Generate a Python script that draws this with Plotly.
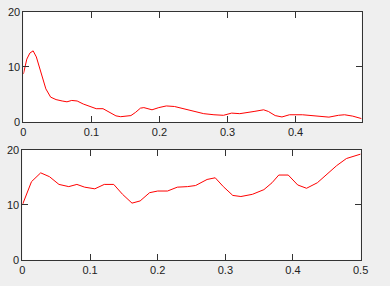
import plotly.graph_objects as go

# Top panel data
x_top = [0, 0.005, 0.0095, 0.0143, 0.019, 0.024, 0.0286, 0.033, 0.040, 0.048, 0.057, 0.064,
         0.071, 0.079, 0.088, 0.098, 0.107, 0.117, 0.126, 0.136, 0.143, 0.150, 0.158, 0.165,
         0.172, 0.177, 0.189, 0.199, 0.21, 0.222, 0.237, 0.251, 0.265, 0.28, 0.294, 0.306,
         0.318, 0.339, 0.353, 0.36, 0.37, 0.38, 0.391, 0.41, 0.43, 0.449, 0.463, 0.472,
         0.484, 0.497]
y_top = [8.7, 11.4, 12.5, 12.9, 11.8, 9.7, 7.7, 6.0, 4.5, 4.05, 3.8, 3.65, 3.9, 3.8, 3.25,
         2.8, 2.4, 2.4, 1.75, 1.1, 0.95, 1.0, 1.15, 1.75, 2.5, 2.6, 2.2, 2.6, 2.9, 2.8, 2.3,
         1.9, 1.5, 1.3, 1.2, 1.6, 1.5, 1.9, 2.2, 1.9, 1.15, 0.9, 1.3, 1.3, 1.05, 0.87, 1.2,
         1.3, 1.05, 0.6]

# Bottom panel data
x_bot = [0, 0.0134, 0.027, 0.040, 0.054, 0.0685, 0.0805, 0.092, 0.107, 0.121, 0.135, 0.148,
         0.162, 0.174, 0.188, 0.2, 0.2145, 0.229, 0.244, 0.256, 0.273, 0.285, 0.297, 0.311,
         0.323, 0.34, 0.357, 0.369, 0.379, 0.393, 0.407, 0.42, 0.436, 0.45, 0.4645, 0.479, 0.5]
y_bot = [10.0, 14.2, 15.8, 15.1, 13.7, 13.3, 13.7, 13.2, 12.9, 13.7, 13.7, 11.9, 10.3, 10.7,
         12.2, 12.5, 12.5, 13.2, 13.3, 13.5, 14.6, 14.9, 13.3, 11.7, 11.5, 11.9, 12.75, 14.0,
         15.4, 15.4, 13.6, 13.0, 14.0, 15.5, 17.1, 18.4, 19.2]

x_ticks = [0, 0.1, 0.2, 0.3, 0.4, 0.5]
x_tick_labels = ["0", "0.1", "0.2", "0.3", "0.4", "0.5"]
y_ticks = [0, 10, 20]
y_tick_labels = ["0", "10", "20"]

W, H = 390, 286
fig = go.Figure()
fig.add_trace(go.Scatter(x=x_top, y=y_top, mode="lines", line=dict(color="#FF0000", width=1),
                         xaxis="x", yaxis="y", showlegend=False, hoverinfo="skip"))
fig.add_trace(go.Scatter(x=x_bot, y=y_bot, mode="lines", line=dict(color="#FF0000", width=1),
                         xaxis="x2", yaxis="y2", showlegend=False, hoverinfo="skip"))

axcommon = dict(showgrid=False, zeroline=False, showline=True, linecolor="#333333", linewidth=1,
                mirror="ticks", ticks="inside", ticklen=6, tickwidth=1, tickcolor="#333333",
                tickfont=dict(family="Liberation Sans, Arial, sans-serif", size=11, color="#222222"))

fig.update_layout(
    width=W, height=H,
    margin=dict(l=0, r=0, t=0, b=0),
    paper_bgcolor="#EFEFEF",
    plot_bgcolor="#FFFFFF",
    xaxis=dict(domain=[21 / W, 369 / W], range=[0, 0.497], anchor="y",
               tickvals=x_ticks, ticktext=x_tick_labels, **axcommon),
    yaxis=dict(domain=[(H - 121) / H, (H - 6) / H], range=[0, 20], anchor="x",
               tickvals=y_ticks, ticktext=y_tick_labels, **axcommon),
    xaxis2=dict(domain=[20 / W, 368 / W], range=[0, 0.5], anchor="y2",
                tickvals=x_ticks, ticktext=x_tick_labels, **axcommon),
    yaxis2=dict(domain=[(H - 265) / H, (H - 150) / H], range=[0, 20], anchor="x2",
                tickvals=y_ticks, ticktext=y_tick_labels, **axcommon),
)

fig.write_html("out.html")
